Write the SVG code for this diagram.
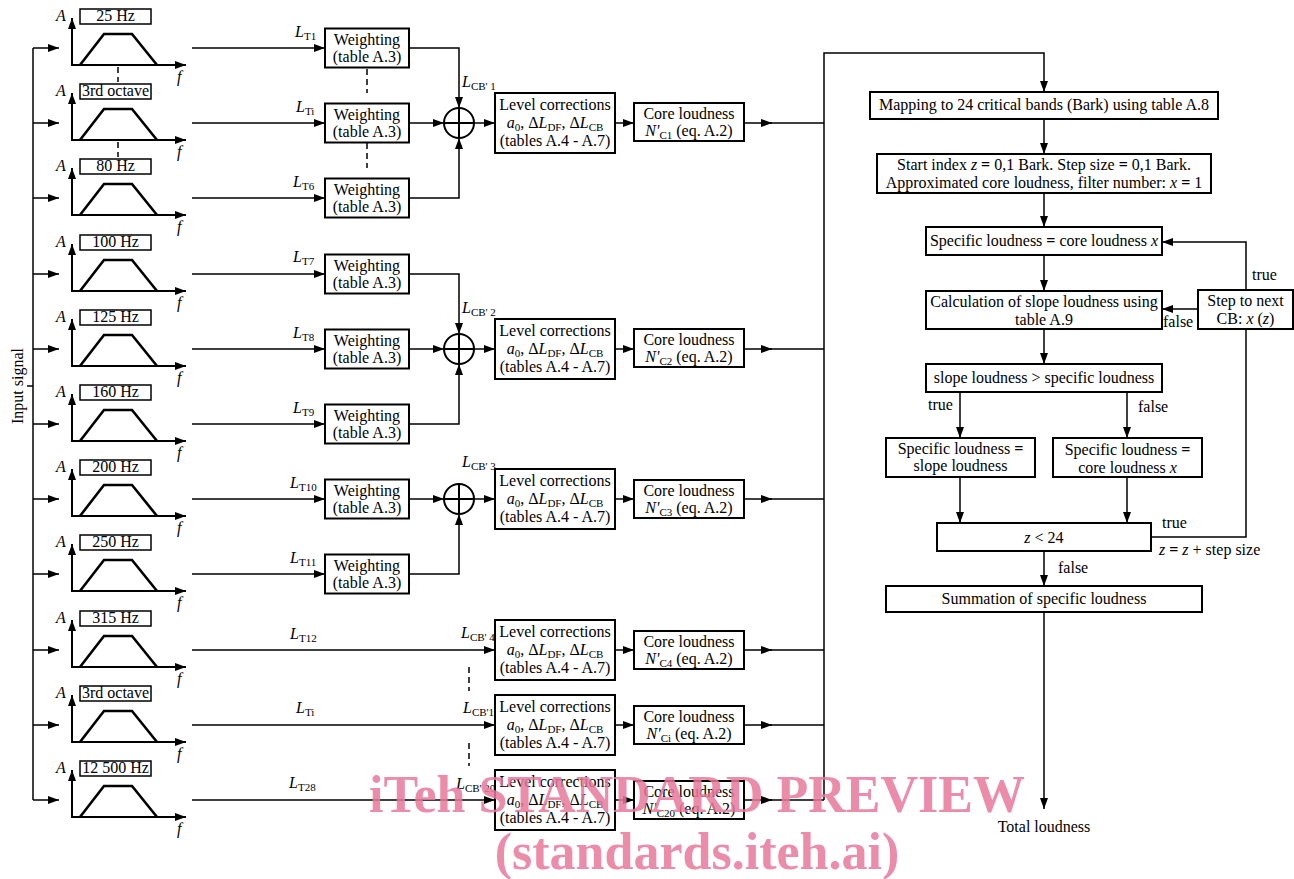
<svg xmlns="http://www.w3.org/2000/svg" xmlns:xlink="http://www.w3.org/1999/xlink" width="1294" height="879" viewBox="0 0 1294 879">
<style>
text{font-family:"Liberation Serif",serif;font-size:16px;fill:#000}
.m{text-anchor:middle}
.i{font-style:italic}
.s{font-size:11px}
.bo{font-weight:bold}
.box{fill:#fff;stroke:#000;stroke-width:2}
.ln{fill:none;stroke:#000;stroke-width:1.5}
.ax{fill:none;stroke:#000;stroke-width:2}
.tz{fill:none;stroke:#000;stroke-width:2.6;stroke-linejoin:miter}
.lb{fill:#fff;stroke:#000;stroke-width:1.5}
.da{fill:none;stroke:#000;stroke-width:1.5;stroke-dasharray:6,4}
.wm{font-family:"Liberation Serif",serif;font-weight:bold;font-size:52px;fill:#e8789c;fill-opacity:0.85;text-anchor:middle}
</style>
<defs>
<marker id="ar" markerUnits="userSpaceOnUse" markerWidth="11" markerHeight="8" viewBox="0 0 11 8" refX="11" refY="4" orient="auto">
<path d="M0,0 L11,4 L0,8 z" fill="#000"/>
</marker>
<g id="flt">
<line class="ax" x1="72" y1="17" x2="72" y2="-30" marker-end="url(#ar)"/>
<line class="ax" x1="71" y1="17" x2="186" y2="17" marker-end="url(#ar)"/>
<polyline class="tz" points="80,17 104,-14 132,-14 157,17"/>
<rect class="lb" x="80" y="-39" width="71" height="15"/>
</g>
</defs>
<rect width="1294" height="879" fill="#fff"/>

<g id="connectors">
<path class="ln" d="M33,48 V800"/>
<path class="ln" d="M27,386 H33"/>
<path class="ln" d="M33,48 H59" marker-end="url(#ar)"/>
<path class="ln" d="M33,123 H59" marker-end="url(#ar)"/>
<path class="ln" d="M33,198 H59" marker-end="url(#ar)"/>
<path class="ln" d="M33,274 H59" marker-end="url(#ar)"/>
<path class="ln" d="M33,349 H59" marker-end="url(#ar)"/>
<path class="ln" d="M33,424 H59" marker-end="url(#ar)"/>
<path class="ln" d="M33,499 H59" marker-end="url(#ar)"/>
<path class="ln" d="M33,574 H59" marker-end="url(#ar)"/>
<path class="ln" d="M33,650 H59" marker-end="url(#ar)"/>
<path class="ln" d="M33,725 H59" marker-end="url(#ar)"/>
<path class="ln" d="M33,800 H59" marker-end="url(#ar)"/>

<path class="ln" d="M192,48 H325" marker-end="url(#ar)"/>
<path class="ln" d="M192,123 H325" marker-end="url(#ar)"/>
<path class="ln" d="M192,198 H325" marker-end="url(#ar)"/>
<path class="ln" d="M192,274 H325" marker-end="url(#ar)"/>
<path class="ln" d="M192,349 H325" marker-end="url(#ar)"/>
<path class="ln" d="M192,424 H325" marker-end="url(#ar)"/>
<path class="ln" d="M192,499 H325" marker-end="url(#ar)"/>
<path class="ln" d="M192,574 H325" marker-end="url(#ar)"/>
<path class="ln" d="M192,650 H495" marker-end="url(#ar)"/>
<path class="ln" d="M192,725 H495" marker-end="url(#ar)"/>
<path class="ln" d="M192,800 H495" marker-end="url(#ar)"/>

<path class="ln" d="M409,48 H459 V108" marker-end="url(#ar)"/>
<path class="ln" d="M409,123 H444" marker-end="url(#ar)"/>
<path class="ln" d="M409,198 H459 V138" marker-end="url(#ar)"/>
<path class="ln" d="M409,274 H459 V334" marker-end="url(#ar)"/>
<path class="ln" d="M409,349 H444" marker-end="url(#ar)"/>
<path class="ln" d="M409,424 H459 V364" marker-end="url(#ar)"/>
<path class="ln" d="M409,499 H444" marker-end="url(#ar)"/>
<path class="ln" d="M409,574 H459 V514" marker-end="url(#ar)"/>

<path class="ln" d="M474,123 H495" marker-end="url(#ar)"/>
<path class="ln" d="M474,349 H495" marker-end="url(#ar)"/>
<path class="ln" d="M474,499 H495" marker-end="url(#ar)"/>

<path class="ln" d="M615,123 H634" marker-end="url(#ar)"/>
<path class="ln" d="M615,349 H634" marker-end="url(#ar)"/>
<path class="ln" d="M615,499 H634" marker-end="url(#ar)"/>
<path class="ln" d="M615,650 H634" marker-end="url(#ar)"/>
<path class="ln" d="M615,725 H634" marker-end="url(#ar)"/>
<path class="ln" d="M615,800 H634" marker-end="url(#ar)"/>

<path class="ln" d="M744,123 H772" marker-end="url(#ar)"/>
<path class="ln" d="M744,349 H772" marker-end="url(#ar)"/>
<path class="ln" d="M744,499 H772" marker-end="url(#ar)"/>
<path class="ln" d="M744,650 H772" marker-end="url(#ar)"/>
<path class="ln" d="M744,725 H772" marker-end="url(#ar)"/>
<path class="ln" d="M744,800 H772" marker-end="url(#ar)"/>
<path class="ln" d="M770,123 H824 M770,349 H824 M770,499 H824 M770,650 H824 M770,725 H824 M770,800 H824"/>
<path class="ln" d="M824,800 V53 H1044 V92" marker-end="url(#ar)"/>

<path class="da" d="M118,67 V82 M118,142 V157"/>
<path class="da" d="M367,69 V93 M367,143 V168"/>
<path class="da" d="M469,667 V691 M469,743 V766"/>

<path class="ln" d="M1044,119 V154" marker-end="url(#ar)"/>
<path class="ln" d="M1044,193 V227" marker-end="url(#ar)"/>
<path class="ln" d="M1044,255 V291" marker-end="url(#ar)"/>
<path class="ln" d="M1044,329 V364" marker-end="url(#ar)"/>
<path class="ln" d="M960,392 V438" marker-end="url(#ar)"/>
<path class="ln" d="M1127,392 V438" marker-end="url(#ar)"/>
<path class="ln" d="M960,477 V523" marker-end="url(#ar)"/>
<path class="ln" d="M1127,477 V523" marker-end="url(#ar)"/>
<path class="ln" d="M1044,551 V586" marker-end="url(#ar)"/>
<path class="ln" d="M1044,612 V809" marker-end="url(#ar)"/>
<path class="ln" d="M1198,309 H1162" marker-end="url(#ar)"/>
<path class="ln" d="M1246,290 V242 H1162" marker-end="url(#ar)"/>
<path class="ln" d="M1246,329 V537 H1151"/>

<text x="295" y="37"><tspan class="i">L</tspan><tspan class="s" dy="3">T1</tspan></text>
<text x="296" y="112"><tspan class="i">L</tspan><tspan class="s" dy="3">Ti</tspan></text>
<text x="293" y="187"><tspan class="i">L</tspan><tspan class="s" dy="3">T6</tspan></text>
<text x="293" y="262"><tspan class="i">L</tspan><tspan class="s" dy="3">T7</tspan></text>
<text x="293" y="338"><tspan class="i">L</tspan><tspan class="s" dy="3">T8</tspan></text>
<text x="293" y="413"><tspan class="i">L</tspan><tspan class="s" dy="3">T9</tspan></text>
<text x="290" y="488"><tspan class="i">L</tspan><tspan class="s" dy="3">T10</tspan></text>
<text x="290" y="563"><tspan class="i">L</tspan><tspan class="s" dy="3">T11</tspan></text>
<text x="290" y="639"><tspan class="i">L</tspan><tspan class="s" dy="3">T12</tspan></text>
<text x="296" y="713"><tspan class="i">L</tspan><tspan class="s" dy="3">Ti</tspan></text>
<text x="289" y="788"><tspan class="i">L</tspan><tspan class="s" dy="3">T28</tspan></text>

<text x="462" y="87"><tspan class="i">L</tspan><tspan class="s" dy="3">CB' 1</tspan></text>
<text x="462" y="313"><tspan class="i">L</tspan><tspan class="s" dy="3">CB' 2</tspan></text>
<text x="462" y="467"><tspan class="i">L</tspan><tspan class="s" dy="3">CB' 3</tspan></text>
<text x="461" y="638"><tspan class="i">L</tspan><tspan class="s" dy="3">CB' 4</tspan></text>
<text x="463" y="713"><tspan class="i">L</tspan><tspan class="s" dy="3">CB'1</tspan></text>
<text x="456" y="789"><tspan class="i">L</tspan><tspan class="s" dy="3">CB' 20</tspan></text>

<text x="1252" y="280">true</text>
<text x="1163" y="327">false</text>
<text x="928" y="410">true</text>
<text x="1138" y="412">false</text>
<text x="1162" y="528">true</text>
<text x="1159" y="555"><tspan class="i">z</tspan> <tspan class="bo">=</tspan> <tspan class="i">z</tspan> + step size</text>
<text x="1058" y="573">false</text>
</g>

<g id="input-signal">
<text class="m" transform="translate(23,386) rotate(-90)">Input signal</text>
</g>

<g id="filter-1"><use xlink:href="#flt" href="#flt" y="48"/><text class="i" x="56" y="21">A</text><text class="m" x="115.5" y="21">25 Hz</text><text class="i" x="177" y="82">f</text></g>
<g id="filter-2"><use xlink:href="#flt" href="#flt" y="123"/><text class="i" x="56" y="96">A</text><text class="m" x="115.5" y="96">3rd octave</text><text class="i" x="177" y="157">f</text></g>
<g id="filter-3"><use xlink:href="#flt" href="#flt" y="198"/><text class="i" x="56" y="171">A</text><text class="m" x="115.5" y="171">80 Hz</text><text class="i" x="177" y="232">f</text></g>
<g id="filter-4"><use xlink:href="#flt" href="#flt" y="274"/><text class="i" x="56" y="247">A</text><text class="m" x="115.5" y="247">100 Hz</text><text class="i" x="177" y="308">f</text></g>
<g id="filter-5"><use xlink:href="#flt" href="#flt" y="349"/><text class="i" x="56" y="322">A</text><text class="m" x="115.5" y="322">125 Hz</text><text class="i" x="177" y="383">f</text></g>
<g id="filter-6"><use xlink:href="#flt" href="#flt" y="424"/><text class="i" x="56" y="397">A</text><text class="m" x="115.5" y="397">160 Hz</text><text class="i" x="177" y="458">f</text></g>
<g id="filter-7"><use xlink:href="#flt" href="#flt" y="499"/><text class="i" x="56" y="472">A</text><text class="m" x="115.5" y="472">200 Hz</text><text class="i" x="177" y="533">f</text></g>
<g id="filter-8"><use xlink:href="#flt" href="#flt" y="574"/><text class="i" x="56" y="547">A</text><text class="m" x="115.5" y="547">250 Hz</text><text class="i" x="177" y="608">f</text></g>
<g id="filter-9"><use xlink:href="#flt" href="#flt" y="650"/><text class="i" x="56" y="623">A</text><text class="m" x="115.5" y="623">315 Hz</text><text class="i" x="177" y="684">f</text></g>
<g id="filter-10"><use xlink:href="#flt" href="#flt" y="725"/><text class="i" x="56" y="698">A</text><text class="m" x="115.5" y="698">3rd octave</text><text class="i" x="177" y="759">f</text></g>
<g id="filter-11"><use xlink:href="#flt" href="#flt" y="800"/><text class="i" x="56" y="773">A</text><text class="m" x="115.5" y="773">12 500 Hz</text><text class="i" x="177" y="834">f</text></g>

<g id="weight-1"><rect class="box" x="325" y="28.5" width="84" height="39"/><text class="m" x="367" y="45">Weighting</text><text class="m" x="367" y="62">(table A.3)</text></g>
<g id="weight-2"><rect class="box" x="325" y="103.5" width="84" height="39"/><text class="m" x="367" y="120">Weighting</text><text class="m" x="367" y="137">(table A.3)</text></g>
<g id="weight-3"><rect class="box" x="325" y="178.5" width="84" height="39"/><text class="m" x="367" y="195">Weighting</text><text class="m" x="367" y="212">(table A.3)</text></g>
<g id="weight-4"><rect class="box" x="325" y="254.5" width="84" height="39"/><text class="m" x="367" y="271">Weighting</text><text class="m" x="367" y="288">(table A.3)</text></g>
<g id="weight-5"><rect class="box" x="325" y="329.5" width="84" height="39"/><text class="m" x="367" y="346">Weighting</text><text class="m" x="367" y="363">(table A.3)</text></g>
<g id="weight-6"><rect class="box" x="325" y="404.5" width="84" height="39"/><text class="m" x="367" y="421">Weighting</text><text class="m" x="367" y="438">(table A.3)</text></g>
<g id="weight-7"><rect class="box" x="325" y="479.5" width="84" height="39"/><text class="m" x="367" y="496">Weighting</text><text class="m" x="367" y="513">(table A.3)</text></g>
<g id="weight-8"><rect class="box" x="325" y="554.5" width="84" height="39"/><text class="m" x="367" y="571">Weighting</text><text class="m" x="367" y="588">(table A.3)</text></g>

<g id="sum-1"><circle class="box" cx="459" cy="123" r="15"/><path class="ax" d="M444,123 H474 M459,108 V138"/></g>
<g id="sum-2"><circle class="box" cx="459" cy="349" r="15"/><path class="ax" d="M444,349 H474 M459,334 V364"/></g>
<g id="sum-3"><circle class="box" cx="459" cy="499" r="15"/><path class="ax" d="M444,499 H474 M459,484 V514"/></g>

<g id="level-1"><rect class="box" x="495" y="93" width="120" height="60"/><text class="m" x="555" y="110">Level corrections</text><text class="m" x="555" y="128"><tspan class="i">a</tspan><tspan class="s" dy="3">0</tspan><tspan dy="-3">, Δ</tspan><tspan class="i">L</tspan><tspan class="s" dy="3">DF</tspan><tspan dy="-3">, Δ</tspan><tspan class="i">L</tspan><tspan class="s" dy="3">CB</tspan></text><text class="m" x="555" y="146">(tables A.4 - A.7)</text></g>
<g id="level-2"><rect class="box" x="495" y="319" width="120" height="60"/><text class="m" x="555" y="336">Level corrections</text><text class="m" x="555" y="354"><tspan class="i">a</tspan><tspan class="s" dy="3">0</tspan><tspan dy="-3">, Δ</tspan><tspan class="i">L</tspan><tspan class="s" dy="3">DF</tspan><tspan dy="-3">, Δ</tspan><tspan class="i">L</tspan><tspan class="s" dy="3">CB</tspan></text><text class="m" x="555" y="372">(tables A.4 - A.7)</text></g>
<g id="level-3"><rect class="box" x="495" y="469" width="120" height="60"/><text class="m" x="555" y="486">Level corrections</text><text class="m" x="555" y="504"><tspan class="i">a</tspan><tspan class="s" dy="3">0</tspan><tspan dy="-3">, Δ</tspan><tspan class="i">L</tspan><tspan class="s" dy="3">DF</tspan><tspan dy="-3">, Δ</tspan><tspan class="i">L</tspan><tspan class="s" dy="3">CB</tspan></text><text class="m" x="555" y="522">(tables A.4 - A.7)</text></g>
<g id="level-4"><rect class="box" x="495" y="620" width="120" height="60"/><text class="m" x="555" y="637">Level corrections</text><text class="m" x="555" y="655"><tspan class="i">a</tspan><tspan class="s" dy="3">0</tspan><tspan dy="-3">, Δ</tspan><tspan class="i">L</tspan><tspan class="s" dy="3">DF</tspan><tspan dy="-3">, Δ</tspan><tspan class="i">L</tspan><tspan class="s" dy="3">CB</tspan></text><text class="m" x="555" y="673">(tables A.4 - A.7)</text></g>
<g id="level-5"><rect class="box" x="495" y="695" width="120" height="60"/><text class="m" x="555" y="712">Level corrections</text><text class="m" x="555" y="730"><tspan class="i">a</tspan><tspan class="s" dy="3">0</tspan><tspan dy="-3">, Δ</tspan><tspan class="i">L</tspan><tspan class="s" dy="3">DF</tspan><tspan dy="-3">, Δ</tspan><tspan class="i">L</tspan><tspan class="s" dy="3">CB</tspan></text><text class="m" x="555" y="748">(tables A.4 - A.7)</text></g>
<g id="level-6"><rect class="box" x="495" y="770" width="120" height="60"/><text class="m" x="555" y="787">Level corrections</text><text class="m" x="555" y="805"><tspan class="i">a</tspan><tspan class="s" dy="3">0</tspan><tspan dy="-3">, Δ</tspan><tspan class="i">L</tspan><tspan class="s" dy="3">DF</tspan><tspan dy="-3">, Δ</tspan><tspan class="i">L</tspan><tspan class="s" dy="3">CB</tspan></text><text class="m" x="555" y="823">(tables A.4 - A.7)</text></g>

<g id="core-1"><rect class="box" x="634" y="103" width="110" height="38"/><text class="m" x="689" y="119">Core loudness</text><text class="m" x="689" y="136"><tspan class="i">N'</tspan><tspan class="s" dy="3">C1</tspan><tspan dy="-3"> (eq. A.2)</tspan></text></g>
<g id="core-2"><rect class="box" x="634" y="329" width="110" height="38"/><text class="m" x="689" y="345">Core loudness</text><text class="m" x="689" y="362"><tspan class="i">N'</tspan><tspan class="s" dy="3">C2</tspan><tspan dy="-3"> (eq. A.2)</tspan></text></g>
<g id="core-3"><rect class="box" x="634" y="480" width="110" height="38"/><text class="m" x="689" y="496">Core loudness</text><text class="m" x="689" y="513"><tspan class="i">N'</tspan><tspan class="s" dy="3">C3</tspan><tspan dy="-3"> (eq. A.2)</tspan></text></g>
<g id="core-4"><rect class="box" x="634" y="631" width="110" height="38"/><text class="m" x="689" y="647">Core loudness</text><text class="m" x="689" y="664"><tspan class="i">N'</tspan><tspan class="s" dy="3">C4</tspan><tspan dy="-3"> (eq. A.2)</tspan></text></g>
<g id="core-5"><rect class="box" x="634" y="706" width="110" height="38"/><text class="m" x="689" y="722">Core loudness</text><text class="m" x="689" y="739"><tspan class="i">N'</tspan><tspan class="s" dy="3">Ci</tspan><tspan dy="-3"> (eq. A.2)</tspan></text></g>
<g id="core-6"><rect class="box" x="634" y="781" width="110" height="38"/><text class="m" x="689" y="797">Core loudness</text><text class="m" x="689" y="814"><tspan class="i">N'</tspan><tspan class="s" dy="3">C20</tspan><tspan dy="-3"> (eq. A.2)</tspan></text></g>

<g id="mapping"><rect class="box" x="870" y="92" width="348" height="27"/><text class="m" x="1044" y="110">Mapping to 24 critical bands (Bark) using table A.8</text></g>
<g id="start"><rect class="box" x="877" y="154" width="334" height="39"/><text class="m" x="1044" y="170">Start index <tspan class="i">z</tspan> <tspan class="bo">=</tspan> 0,1 Bark. Step size <tspan class="bo">=</tspan> 0,1 Bark.</text><text class="m" x="1044" y="188">Approximated core loudness, filter number:  <tspan class="i">x</tspan> <tspan class="bo">=</tspan> 1</text></g>
<g id="specific"><rect class="box" x="926" y="227" width="236" height="28"/><text class="m" x="1044" y="246">Specific loudness <tspan class="bo">=</tspan> core loudness <tspan class="i">x</tspan></text></g>
<g id="calc"><rect class="box" x="926" y="291" width="236" height="38"/><text class="m" x="1044" y="307">Calculation of slope loudness using</text><text class="m" x="1044" y="325">table A.9</text></g>
<g id="step"><rect class="box" x="1198" y="290" width="95" height="39"/><text class="m" x="1245.5" y="306">Step to next</text><text class="m" x="1245.5" y="324">CB: <tspan class="i">x</tspan> (<tspan class="i">z</tspan>)</text></g>
<g id="compare"><rect class="box" x="926" y="364" width="236" height="28"/><text class="m" x="1044" y="383">slope loudness &gt; specific loudness</text></g>
<g id="spec-slope"><rect class="box" x="886" y="438" width="149" height="39"/><text class="m" x="960.5" y="454">Specific loudness <tspan class="bo">=</tspan></text><text class="m" x="960.5" y="471">slope loudness</text></g>
<g id="spec-core"><rect class="box" x="1053" y="438" width="149" height="39"/><text class="m" x="1127.5" y="455">Specific loudness <tspan class="bo">=</tspan></text><text class="m" x="1127.5" y="473">core loudness <tspan class="i">x</tspan></text></g>
<g id="zcheck"><rect class="box" x="937" y="523" width="214" height="28"/><text class="m" x="1044" y="543"><tspan class="i">z</tspan> &lt; 24</text></g>
<g id="summation"><rect class="box" x="886" y="586" width="316" height="26"/><text class="m" x="1044" y="604">Summation of specific loudness</text></g>
<g id="total"><text class="m" x="1044" y="832">Total loudness</text></g>

<g id="watermark">
<text class="wm" x="697" y="812">iTeh STANDARD PREVIEW</text>
<text class="wm" x="697" y="869">(standards.iteh.ai)</text>
</g>
</svg>
